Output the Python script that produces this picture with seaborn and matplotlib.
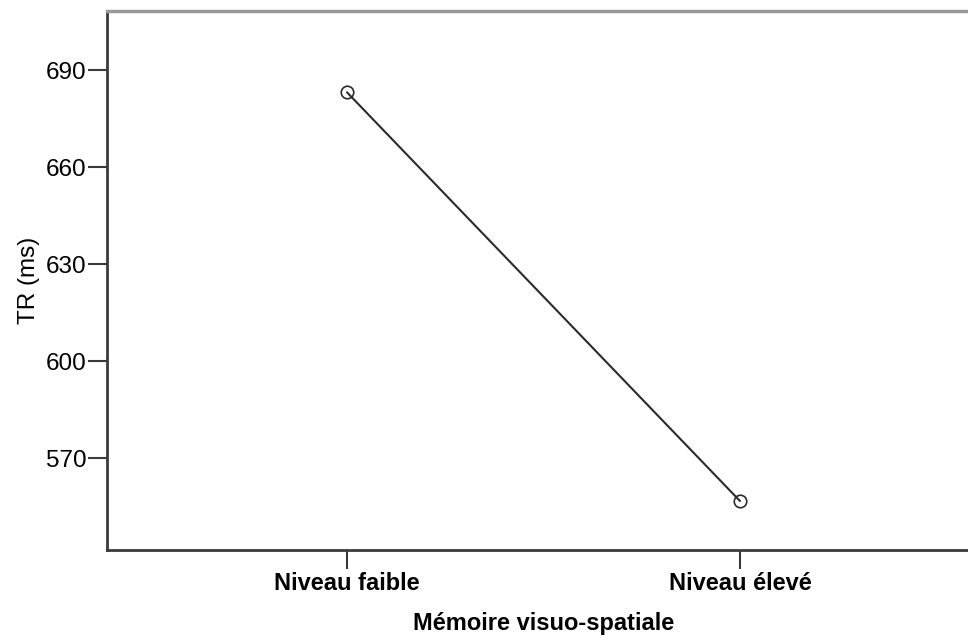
import matplotlib
matplotlib.use("Agg")
import matplotlib.pyplot as plt
import seaborn as sns

# data
categories = ["Niveau faible", "Niveau élevé"]
tr_means = [683.1, 556.7]
y_ticks = [570, 600, 630, 660, 690]

sns.set_style("white")
plt.rcParams['font.family'] = ['Liberation Sans', 'DejaVu Sans']

fig = plt.figure(figsize=(9.68, 6.36), dpi=100)
ax = fig.add_axes([107 / 968, 86 / 636, 873 / 968, 539 / 636])

sns.lineplot(x=categories, y=tr_means, ax=ax, color='#2b2b2b', linewidth=1.5,
             marker='o', markersize=9, markerfacecolor='none',
             markeredgecolor='#2b2b2b', markeredgewidth=1.2)

ax.set_xlim(-0.6107, 1.6107)
ax.set_ylim(541.55, 708.25)
ax.set_yticks(y_ticks)
ax.set_yticklabels([str(t) for t in y_ticks], fontsize=17.5, color='black')
ax.set_xticks([0, 1])
ax.set_xticklabels(categories, fontsize=17, fontweight='bold', color='black')

ax.tick_params(axis='both', which='major', length=14, width=1.5, color='#3a3a3a',
               direction='out', left=True, bottom=True)
ax.tick_params(axis='y', pad=1)
ax.tick_params(axis='x', pad=2)

ax.set_xlabel("Mémoire visuo-spatiale", fontsize=17, fontweight='bold',
              color='black', labelpad=12)
ax.set_ylabel("TR (ms)", fontsize=17.5, color='black', labelpad=4)

for side in ['left', 'bottom']:
    ax.spines[side].set_color('#3a3a3a')
    ax.spines[side].set_linewidth(2)
ax.spines['top'].set_color('#9a9a9a')
ax.spines['top'].set_linewidth(2.5)
ax.spines['right'].set_visible(False)

fig.savefig("out.png", dpi=100)
